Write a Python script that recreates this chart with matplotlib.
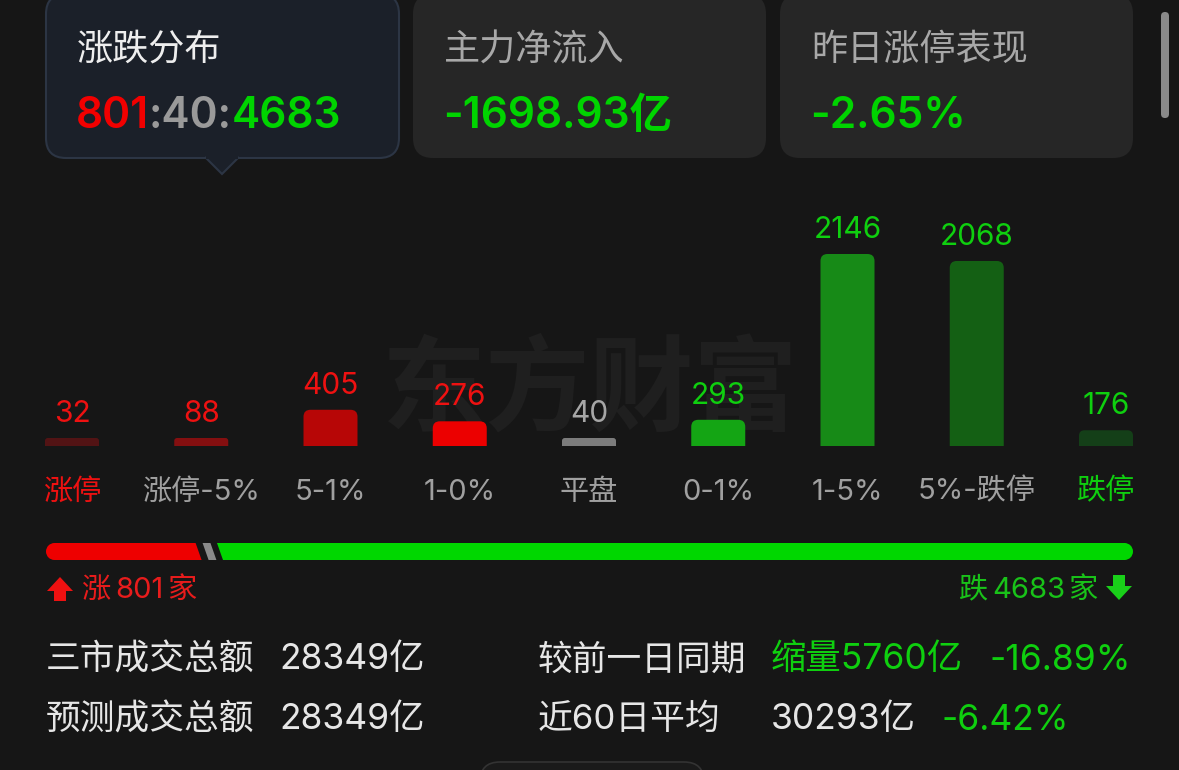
import matplotlib
matplotlib.use("Agg")
import matplotlib.pyplot as plt
from matplotlib.patches import FancyBboxPatch, Polygon, Ellipse
from matplotlib.transforms import blended_transform_factory

plt.rcParams['font.family'] = ['Inter', 'Noto Sans CJK SC', 'DejaVu Sans']

# data
categories = ["涨停", "涨停-5%", "5-1%", "1-0%", "平盘", "0-1%", "1-5%", "5%-跌停", "跌停"]
counts = [32, 88, 405, 276, 40, 293, 2146, 2068, 176]
bar_colors = ["#521314", "#840f10", "#b70606", "#ec0000", "#7c7c7c",
              "#14a514", "#178a17", "#146014", "#143f18"]
up_count, flat_count, down_count = 801, 40, 4683
card_titles = ["涨跌分布", "主力净流入", "昨日涨停表现"]
net_inflow = "-1698.93亿"
limit_up_perf = "-2.65%"
stats_left = [("三市成交总额", "28349亿"), ("预测成交总额", "28349亿")]

BG = "#161616"
RED = "#ee1111"
GREEN = "#0fcf0f"
WHITE = "#e6e6e6"
DY = 3  # text centre correction in pixels

W, H = 1179, 770
fig = plt.figure(figsize=(W / 100, H / 100), dpi=100, facecolor=BG)
ui = fig.add_axes([0, 0, 1, 1])
ui.set_xlim(0, W)
ui.set_ylim(H, 0)
ui.axis("off")
ui.set_facecolor(BG)
renderer = fig.canvas.get_renderer()


def put(x, y, s, color, size, ha="left", **kw):
    return ui.text(x, y + DY, s, color=color, fontsize=size, va="center", ha=ha, **kw)


def put_after(t, s, color, size, gap=0, **kw):
    bb = t.get_window_extent(renderer)
    return ui.text(bb.x1 + gap, t.get_position()[1], s, color=color, fontsize=size,
                   va="center", ha="left", **kw)


def put_before(t, s, color, size, gap=0, **kw):
    bb = t.get_window_extent(renderer)
    return ui.text(bb.x0 - gap, t.get_position()[1], s, color=color, fontsize=size,
                   va="center", ha="right", **kw)


# top cards
ui.add_patch(FancyBboxPatch((46, -6), 353, 164, boxstyle="round,pad=0,rounding_size=20",
                            fc="#1b2029", ec="#2c3544", lw=1.5, zorder=1))
ui.add_patch(Polygon([(205, 157), (222, 174), (239, 157)], closed=False,
                     fc="#1b2029", ec="#2c3544", lw=1.5, zorder=2))
ui.add_patch(Polygon([(206, 155), (238, 155), (238, 158.5), (206, 158.5)],
                     fc="#1b2029", ec="none", zorder=3))
for x0 in (413, 780):
    ui.add_patch(FancyBboxPatch((x0, -6), 353, 164, boxstyle="round,pad=0,rounding_size=20",
                                fc="#262626", ec="none", zorder=1))

put(77, 47, card_titles[0], "#eeeeee", 26, zorder=4)
put(444, 47, card_titles[1], "#a8a8a8", 26, zorder=4)
put(811, 47, card_titles[2], "#a8a8a8", 26, zorder=4)

t = put(76, 113, str(up_count), "#f20000", 30.5, weight="semibold", zorder=4)
t = put_after(t, ":" + str(flat_count) + ":", "#9a9a9a", 30.5, weight="semibold", zorder=4)
put_after(t, str(down_count), "#00d400", 30.5, weight="semibold", zorder=4)
put(443, 113, net_inflow, "#00d400", 30.5, weight="semibold", zorder=4)
put(810, 113, limit_up_perf, "#00d400", 30.5, weight="semibold", zorder=4)

# scrollbar
ui.add_patch(FancyBboxPatch((1161, 12), 8, 106, boxstyle="round,pad=0,rounding_size=4",
                            fc="#8a8a8a", ec="none"))

# watermark
ui.text(590, 392, "东方财富", color="#1f1f1f", fontsize=75, weight="bold",
        family="Noto Sans CJK SC", ha="center", va="center", zorder=0)

# bar chart
base_px, max_px = 446, 192
unit_px = max_px / max(counts)
top_px = 206
ax = fig.add_axes([0, (H - base_px) / H, 1, (base_px - top_px) / H])
ax.patch.set_alpha(0)
ax.axis("off")
step = 129.25
ax.set_xlim(-72 / step, (W - 72) / step)
ax.set_ylim(0, (base_px - top_px) / unit_px)
aspect = step / unit_px
min_h = 8 / unit_px
bw = 54 / step
for i, (v, c) in enumerate(zip(counts, bar_colors)):
    h = max(v, min_h)
    r_px = min(7, h * unit_px * 0.35)
    p = FancyBboxPatch((i - bw / 2, -400), bw, h + 400,
                       boxstyle=f"round,pad=0,rounding_size={r_px / step}",
                       mutation_aspect=aspect, fc=c, ec="none")
    ax.add_patch(p)
    lc = RED if i < 4 else ("#a6a6a6" if i == 4 else GREEN)
    ax.annotate(str(v), (i, h), xytext=(0, 11.5), textcoords="offset points",
                ha="center", va="baseline", color=lc, fontsize=21.5)

tr = blended_transform_factory(ax.transData, ui.transData)
for i, cat in enumerate(categories):
    cc = RED if i == 0 else (GREEN if i == len(categories) - 1 else "#a0a0a0")
    ax.text(i, 489 + DY, cat, transform=tr, ha="center", va="center", color=cc, fontsize=21)

# progress bar
pb_l, pb_r, pb_t, pb_b = 46, 1133, 543, 560
pb = fig.add_axes([pb_l / W, (H - pb_b) / H, (pb_r - pb_l) / W, (pb_b - pb_t) / H])
pb.axis("off")
pb.patch.set_alpha(0)
gap_px, slant_px, flat_min_px = 7, 6, 7
avail_px = (pb_r - pb_l) - 2 * gap_px
px_per = avail_px / (up_count + down_count)
flat_w = max(flat_count * px_per, flat_min_px)
scale = avail_px / (up_count + down_count + flat_w / px_per)
pb.set_xlim(0, pb_r - pb_l)
pb.set_ylim(0, 1)
red_end = up_count * scale
gray_s = red_end + gap_px
gray_e = gray_s + flat_w
green_s = gray_e + gap_px
rad = (pb_b - pb_t) / 2
end = pb_r - pb_l
pb.add_patch(Ellipse((rad, 0.5), 2 * rad, 1, fc="#ee0000", ec="none"))
pb.add_patch(Polygon([(rad, 1), (red_end - slant_px, 1), (red_end, 0), (rad, 0)],
                     fc="#ee0000", ec="none"))
pb.add_patch(Polygon([(gray_s - slant_px, 1), (gray_e - slant_px, 1), (gray_e, 0), (gray_s, 0)],
                     fc="#8a8a8a", ec="none"))
pb.add_patch(Polygon([(green_s - slant_px, 1), (end - rad, 1), (end - rad, 0), (green_s, 0)],
                     fc="#00d700", ec="none"))
pb.add_patch(Ellipse((end - rad, 0.5), 2 * rad, 1, fc="#00d700", ec="none"))

# up / down labels with arrows
ui.add_patch(Polygon([(47, 591), (60, 577), (73, 591), (66, 591), (66, 601), (54, 601), (54, 591)],
                     fc="#ee1111", ec="none"))
t = put(81, 587, "涨", "#e81c1c", 21)
t = put_after(t, str(up_count), "#e81c1c", 21, gap=5)
put_after(t, "家", "#e81c1c", 21, gap=4)
ui.add_patch(Polygon([(1106, 586), (1119, 600), (1132, 586), (1125, 586), (1125, 575), (1113, 575), (1113, 586)],
                     fc="#19d019", ec="none"))
t = put(1097, 587, "家", "#19c219", 21, ha="right")
t = put_before(t, str(down_count), "#19c219", 21, gap=2)
put_before(t, "跌", "#19c219", 21, gap=5)

# bottom stats
for k, (lab, val) in enumerate(stats_left):
    y = 657 + 60 * k
    put(46, y, lab, WHITE, 25)
    put(279, y, val, WHITE, 25.5)
put(538, 657, "较前一日同期", WHITE, 25)
put(771, 657, "缩量5760亿", GREEN, 25.5)
put(1131, 657, "-16.89%", GREEN, 25.5, ha="right")
put(538, 717, "近60日平均", WHITE, 25)
put(771, 717, "30293亿", WHITE, 25.5)
put(942, 717, "-6.42%", GREEN, 25.5)

# partial card at bottom edge
ui.add_patch(FancyBboxPatch((480, 762), 224, 60, boxstyle="round,pad=0,rounding_size=20",
                            fc="#1a1a1a", ec="#333333", lw=1.2))

fig.savefig("out.png", dpi=100, facecolor=BG)
